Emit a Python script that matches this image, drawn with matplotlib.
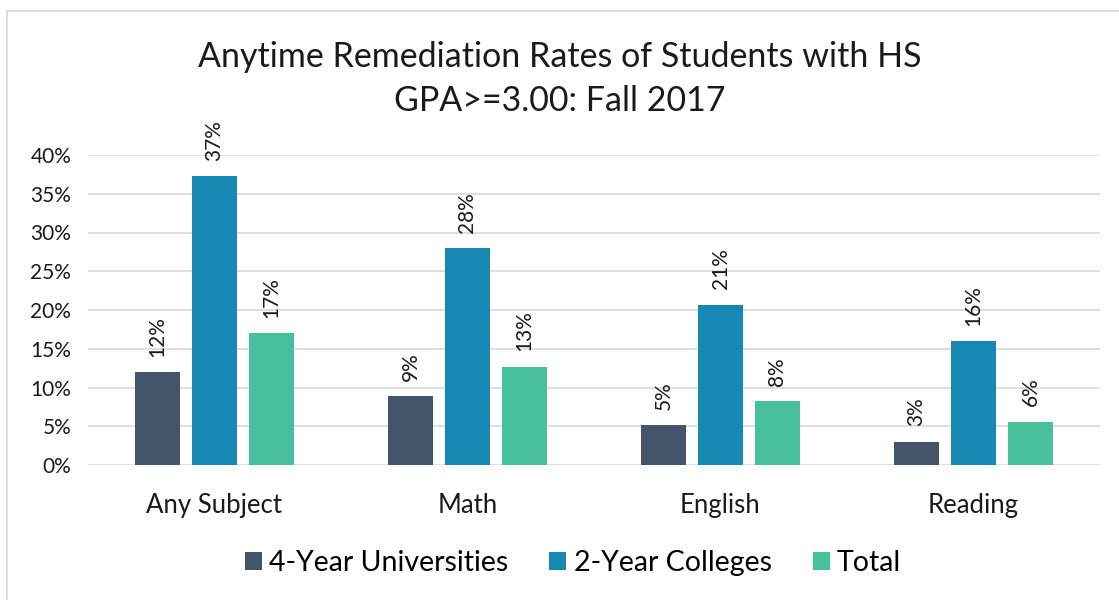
import matplotlib
matplotlib.use('Agg')
import matplotlib.pyplot as plt
import numpy as np

plt.rcParams['font.family'] = ['Lato', 'DejaVu Sans']

categories = ['Any Subject', 'Math', 'English', 'Reading']
univ_4yr = [12.0, 8.9, 5.1, 3.0]
coll_2yr = [37.3, 28.0, 20.7, 16.0]
total = [17.0, 12.7, 8.2, 5.6]
series_names = ['4-Year Universities', '2-Year Colleges', 'Total']
colors = ['#44546A', '#1788B4', '#48C09A']

fig = plt.figure(figsize=(11.19, 6.0), dpi=100)
# chart border (only top and left edges show in the crop)
fig.add_artist(plt.Line2D([6.5 / 1119, 1.0], [1 - 10.5 / 600] * 2, transform=fig.transFigure,
                          color='#D9D9D9', linewidth=1.3))
fig.add_artist(plt.Line2D([6.5 / 1119] * 2, [0.0, 1 - 10.5 / 600], transform=fig.transFigure,
                          color='#D9D9D9', linewidth=1.3))
ax = fig.add_axes([88 / 1119, 1 - 465 / 600, 1012 / 1119, 310 / 600])

x = np.arange(len(categories))
width = 0.175
step = 0.225
for i, (vals, name, c) in enumerate(zip([univ_4yr, coll_2yr, total], series_names, colors)):
    bars = ax.bar(x + (i - 1) * step, vals, width, color=c, label=name, zorder=3)
    for b, v in zip(bars, vals):
        ax.annotate(f'{round(v)}%', (b.get_x() + b.get_width() / 2, v), xytext=(0, 11),
                    textcoords='offset points', rotation=90, ha='center', va='bottom',
                    fontsize=15, color='#1a1a1a')

ax.set_xlim(-0.5, 3.5)
ax.set_ylim(0, 40)
ax.set_yticks(np.arange(0, 41, 5))
ax.set_yticklabels([f'{t}%' for t in range(0, 41, 5)], fontsize=15, color='#1a1a1a')
ax.set_xticks(x)
ax.set_xticklabels(categories, fontsize=18.5, color='#1a1a1a')
ax.tick_params(axis='both', length=0)
ax.tick_params(axis='x', pad=20)
ax.tick_params(axis='y', pad=12)
ax.grid(axis='y', color='#D9D9D9', linewidth=1.2, zorder=0)
for s in ax.spines.values():
    s.set_visible(False)

fig.text(0.5, 1 - 57 / 600, 'Anytime Remediation Rates of Students with HS', ha='center',
         va='center', fontsize=24.5, color='#1a1a1a')
fig.text(0.5, 1 - 101 / 600, 'GPA>=3.00: Fall 2017', ha='center', va='center',
         fontsize=24.5, color='#1a1a1a')

fig.legend(loc='center', bbox_to_anchor=(0.512, 1 - 563 / 600), ncol=3, frameon=False,
           fontsize=20.5, handlelength=0.6, handleheight=0.6, handletextpad=0.25,
           columnspacing=1.45)

fig.savefig('out.png', dpi=100)
